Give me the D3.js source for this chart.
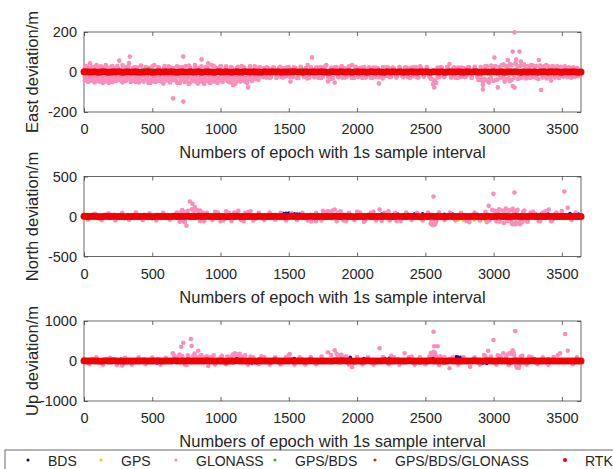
<!DOCTYPE html>
<html>
<head>
<meta charset="utf-8">
<script src="https://cdnjs.cloudflare.com/ajax/libs/d3/7.8.5/d3.min.js"></script>
<style>
body { margin: 0; background: #fff; }
svg { display: block; }
text { font-family: Arial, "Liberation Sans", sans-serif; fill: #262626; }
</style>
</head>
<body>
<svg id="drawing_region"></svg>
<script>
// series names and colours (legend order = plot order)
const seriesNames = ['BDS', 'GPS', 'GLONASS', 'GPS/BDS', 'GPS/BDS/GLONASS', 'RTK'];
const seriesColors = ['#0c0ca0', '#f2d000', '#f78fbc', '#1fd21f', '#a3421c', '#f00000'];

const panelLabels = ['East deviation/m', 'North deviation/m', 'Up deviation/m'];
const panelDomains = [[-200, 200], [-500, 500], [-1000, 1000]];
const xTicks = [0, 500, 1000, 1500, 2000, 2500, 3000, 3500];
const xLabel = 'Numbers of epoch with 1s sample interval';
const epochMax = 3640;

// RTK solution, one value every 20 epochs (0 .. 3640)
const rtkStep = 20;
const rtkEast = [
  1.5, 0.8,-0.6, 0.4, 1.1,-0.9, 0.3, 0.7,-0.4,-1.2,
  0.6, 1.3,-0.2, 0.9,-0.7, 0.2, 1.0,-0.5, 0.4, 0.8,
 -1.0, 0.5, 0.1, 1.2,-0.3,-0.8, 0.6, 0.9,-0.4, 0.3,
  0.7,-0.6, 1.1, 0.2,-0.9, 0.5, 0.8,-0.3, 0.4, 1.0,
 -0.5, 0.2, 0.9,-0.7, 0.6, 1.2,-0.2, 0.3,-1.1, 0.7,
  0.4,-0.4, 1.0, 0.5,-0.8, 0.2, 0.9,-0.3, 0.6, 1.1,
 -0.6, 0.3, 0.8,-0.2, 0.5,-0.9, 1.3, 0.4,-0.5, 0.7,
  0.2, 1.0,-0.7, 0.6, 0.3,-0.4, 0.9, 1.2,-0.2, 0.5,
 -1.0, 0.8, 0.4,-0.6, 1.1, 0.3,-0.3, 0.7, 0.2,-0.8,
  0.5, 0.9,-0.1, 0.6, 1.4,-0.5, 0.2, 0.8,-0.9, 0.3,
  1.0,-0.4, 0.6, 0.1,-0.7, 1.2, 0.5,-0.2, 0.9, 0.4,
 -0.8, 0.7, 0.3, 1.1,-0.5, 0.2, 0.8,-1.0, 0.6, 0.1,
  0.9,-0.3, 0.4, 1.3,-0.6, 0.7, 0.2,-0.9, 1.0, 0.5,
 -0.2, 0.8,-0.7, 0.3, 1.2, 0.6,-0.4, 0.9, 0.1,-1.1,
  0.7, 0.4,-0.5, 1.0, 0.2,-0.8, 0.6, 1.1,-0.3, 0.5,
  0.9,-0.6, 0.3, 0.8,-1.2, 0.4, 1.0,-0.1, 0.7, 0.2,
 -0.9, 1.3, 0.5,-0.4, 0.6, 0.9,-0.7, 0.3, 1.1,-0.2,
  0.4, 0.8,-0.5, 1.0, 0.1,-0.9, 0.7, 0.5,-0.3, 1.2,
  0.6,-0.8, 0.2];
const rtkNorth = [
  2.1,-1.4, 0.8, 1.9,-0.6, 1.2,-2.0, 0.5, 1.6,-0.9,
  0.3, 2.2,-1.1, 0.7, 1.4,-1.8, 0.9, 0.2,-0.7, 1.5,
 -1.3, 0.6, 2.0,-0.4, 1.1,-1.6, 0.8, 1.7,-0.2, 0.4,
  1.3,-1.0, 0.5, 2.3,-0.8, 1.0,-1.5, 0.7, 1.8,-0.3,
  0.9,-1.2, 1.6, 0.1,-0.9, 2.0, 0.6,-1.4, 1.2, 0.3,
 -0.6, 1.5,-1.7, 0.8, 1.1,-0.5, 2.1, 0.4,-1.0, 0.9,
  1.4,-0.3, 0.7,-1.9, 1.6, 0.2,-0.8, 1.3, 0.5,-1.1,
  2.2, 0.6,-0.4, 1.0,-1.5, 0.8, 1.7,-0.2, 0.3,-0.9,
  1.2, 0.4,-1.3, 1.9, 0.7,-0.6, 1.1,-1.0, 0.5, 1.4,
 -0.7, 0.9, 1.8,-1.2, 0.4, 2.0,-0.5, 1.1, 0.6,-1.6,
  0.8, 1.5,-0.9, 0.2, 1.9,-1.1, 0.7, 1.3,-0.4, 0.5,
  2.1,-1.5, 0.9, 0.3,-0.8, 1.6, 1.0,-1.3, 0.4, 1.8,
 -0.6, 1.2, 0.1,-1.9, 1.4, 0.7,-0.3, 2.2, 0.5,-1.0,
  1.1, 0.8,-1.6, 0.6, 1.7,-0.4, 0.2, 1.5,-1.2, 0.9,
  1.3,-0.7, 0.4, 2.0,-1.4, 0.6, 1.0,-0.2, 1.8, 0.3,
 -1.1, 0.9, 1.6,-0.8, 0.5, 1.2,-1.7, 0.7, 2.1,-0.5,
  0.4, 1.4,-1.0, 0.8, 1.9,-0.6, 0.3, 1.1,-1.5, 0.6,
  1.7,-0.9, 0.2, 1.3, 0.8,-1.2, 1.5, 0.4,-0.7, 1.0,
  0.5,-1.3, 0.9];
const rtkUp = [
  3.2,-2.5, 1.8, 4.1,-1.2, 2.6,-3.8, 0.9, 3.5,-2.0,
  1.4, 4.4,-2.9, 1.1, 2.8,-3.3, 2.0, 0.6,-1.7, 3.0,
 -2.6, 1.5, 3.9,-0.8, 2.3,-3.1, 1.6, 3.4,-0.5, 0.9,
  2.7,-2.2, 1.0, 4.6,-1.6, 2.1,-2.8, 1.3, 3.6,-0.7,
  1.9,-2.4, 3.1, 0.4,-1.9, 4.0, 1.2,-2.7, 2.5, 0.8,
 -1.3, 3.0,-3.4, 1.7, 2.2,-1.1, 4.3, 0.9,-2.1, 1.8,
  2.9,-0.6, 1.4,-3.7, 3.2, 0.5,-1.5, 2.6, 1.0,-2.3,
  4.4, 1.2,-0.9, 2.0,-3.0, 1.6, 3.4,-0.4, 0.7,-1.8,
  2.4, 0.8,-2.6, 3.8, 1.4,-1.2, 2.2,-2.0, 1.0, 2.8,
 -1.4, 1.8, 3.6,-2.4, 0.8, 4.0,-1.0, 2.2, 1.2,-3.2,
  1.6, 3.0,-1.8, 0.4, 3.8,-2.2, 1.4, 2.6,-0.8, 1.0,
  4.2,-3.0, 1.8, 0.6,-1.6, 3.2, 2.0,-2.6, 0.8, 3.6,
 -1.2, 2.4, 0.2,-3.8, 2.8, 1.4,-0.6, 4.4, 1.0,-2.0,
  2.2, 1.6,-3.2, 1.2, 3.4,-0.8, 0.4, 3.0,-2.4, 1.8,
  2.6,-1.4, 0.8, 4.0,-2.8, 1.2, 2.0,-0.4, 3.6, 0.6,
 -2.2, 1.8, 3.2,-1.6, 1.0, 2.4,-3.4, 1.4, 4.2,-1.0,
  0.8, 2.8,-2.0, 1.6, 3.8,-1.2, 0.6, 2.2,-3.0, 1.2,
  3.4,-1.8, 0.4, 2.6, 1.6,-2.4, 3.0, 0.8,-1.4, 2.0,
  1.0,-2.6, 1.8];

// [epoch, deviation] for the other solutions
const bdsEast = [[200,10],[600,8],[1250,12],[1700,9],[2100,10],[2500,-8],[3000,8],[3400,-5]];
const bdsNorth = [[900,25],[1250,-25],[1440,30],[1460,38],[1480,40],[1500,42],[1520,38],[1540,35],[1560,32],[1580,30],
  [2180,30],[2300,28],[2420,30],[2480,35],[2520,30],[2640,28],[2700,30],[2760,32],[2880,28],
  [3300,30],[3350,35],[3400,32],[3450,30],[3500,35],[3560,38],[3600,35],[3620,30]];
const bdsUp = [[110,-20],[270,40],[536,-50],[560,-45],[1090,-40],[1120,60],[1230,-50],[1540,60],[1600,40],[1880,80],
  [1950,90],[2000,80],[2050,60],[2200,70],[2240,80],[2545,70],[2560,100],[2726,108],[2740,100],[2760,90],
  [2921,-50],[2950,-60],[3060,40],[3280,60],[3300,50],[3450,40]];

const gpsEast = [[300,12],[2800,12],[3090,15],[3560,-15],[3600,-20],[3620,-25],[3630,-15]];
const gpsNorth = [[0,-30],[20,30],[50,-25],[80,35],[110,-30],[140,25],[1000,-25],
  [2740,-45],[2780,-50],[2820,-40],[2860,-45],[2900,-35],[2940,-50]];
const gpsUp = [[20,40],[60,-30],[2900,30]];

const glonassEast = [
  [5,-25],[12,30],[20,-35],[28,22],[35,-20],[44,43],[52,-30],[60,25],[68,-40],[75,18],[84,-28],[92,35],[100,-45],
  [108,20],[116,-22],[124,28],[132,-35],[140,22],[150,-50],[158,-30],[166,25],[175,-40],[182,-55],[190,20],[198,-45],
  [206,30],[214,-25],[222,-35],[230,22],[240,-30],[250,18],[258,57],[266,-28],[274,-45],[282,35],[290,-20],[300,-38],
  [310,25],[320,-30],[330,45],[336,77],[342,-25],[350,-40],[360,20],[370,-30],[380,-50],[390,22],[398,-35],
  [410,-28],[420,30],[430,-45],[440,-20],[452,25],[462,-38],[472,-55],[482,20],[494,-30],[505,-45],[515,35],[525,-25],
  [535,-40],[548,22],[560,-30],[572,-50],[584,18],[596,-35],[608,-25],[620,28],[632,-45],[644,-30],[653,-132],[660,20],
  [672,-40],[684,-55],[696,25],[708,-35],[718,-25],[727,77],[727,-148],[735,-45],[745,30],[755,-30],[766,-60],[778,22],
  [790,-40],[800,-25],[812,35],[822,-50],[834,-30],[845,20],[855,-45],[861,63],[870,-35],[880,-60],[890,25],[900,-40],
  [910,43],[918,-30],[926,-55],[934,35],[944,-40],[955,-25],[966,20],[978,-45],[990,-30],
  [1002,30],[1014,-40],[1026,-25],[1038,22],[1050,-35],[1062,-50],[1075,25],[1088,-40],[1092,-65],[1105,-30],[1118,20],
  [1130,-45],[1142,-25],[1155,30],[1167,-40],[1178,-48],[1190,-30],[1202,-77],[1214,22],[1226,-35],[1238,-25],[1250,28],
  [1262,-30],[1275,-20],[1288,25],[1300,-22],[1318,20],[1335,-28],[1352,18],[1370,-25],[1390,22],[1410,-30],[1428,20],
  [1445,-25],[1462,18],[1480,-22],[1500,25],[1512,-48],[1530,-25],[1550,20],[1570,-30],[1590,22],
  [1610,-25],[1625,20],[1638,35],[1650,-28],[1670,73],[1685,-20],[1700,22],[1718,-30],[1735,25],[1750,-22],[1765,28],
  [1775,35],[1787,-48],[1800,-25],[1812,22],[1824,-30],[1836,-53],[1848,25],[1862,-20],[1878,22],[1892,-28],
  [1908,20],[1925,-25],[1940,28],[1955,-20],[1963,35],[1978,-30],[1992,22],[2008,-25],[2022,20],[2038,-30],[2052,25],
  [2068,-22],[2085,20],[2100,-28],[2118,22],[2135,-25],[2150,20],[2160,-57],[2175,-22],[2190,25],
  [2210,-20],[2230,22],[2250,-25],[2270,18],[2290,-22],[2310,25],[2330,-20],[2350,22],[2370,-25],[2390,20],[2410,-22],
  [2430,25],[2450,-28],[2470,20],[2490,-22],[2510,25],[2530,-25],[2545,-35],[2556,-60],[2565,-77],[2572,-48],[2580,-55],
  [2590,22],[2605,-25],[2620,22],[2640,-20],[2660,25],[2677,40],[2690,-22],[2705,20],[2720,-28],[2740,22],[2760,-25],
  [2780,20],[2800,-22],[2820,25],[2840,-28],[2860,22],[2880,-25],[2895,-35],
  [2905,25],[2912,-40],[2921,-65],[2921,-87],[2935,-35],[2950,30],[2966,-53],[2980,-30],[2995,25],[3006,72],[3015,-40],
  [3031,-77],[3045,-30],[3060,35],[3072,-25],[3080,-48],[3092,30],
  [3104,60],[3112,-30],[3120,40],[3130,-40],[3140,102],[3140,-70],[3153,198],[3153,-78],[3160,45],[3165,63],[3175,30],
  [3189,102],[3190,-30],[3199,52],[3210,35],[3220,-25],[3235,30],[3250,-20],[3262,25],[3275,35],[3288,-25],
  [3300,28],[3315,-30],[3331,60],[3340,25],[3348,-90],[3360,-25],[3372,30],[3385,35],[3398,-25],[3410,22],[3421,-43],
  [3435,25],[3450,-22],[3465,28],[3480,-25],[3495,22],[3510,-20],[3525,25],[3540,-22],[3555,20],[3570,-25],[3585,22],
  [3600,-20],[3615,18],
  // dense part of the cloud
  [6,-42],[18,-18],[30,-50],[42,-28],[54,-45],[66,-22],[78,-52],[90,-35],[102,-25],[114,-48],[126,-20],[138,-55],
  [150,-30],[162,-42],[174,-25],[186,-38],[198,-22],[210,-50],[222,-18],[234,-45],[246,-30],[258,-40],[270,-22],
  [282,-52],[294,-30],[306,-45],[318,-20],[330,-35],[342,-50],[354,-28],[366,-45],[378,-22],[390,-40],[402,-52],
  [414,-30],[426,-20],[438,-48],[450,-35],[462,-25],[474,-42],[486,-55],[498,-22],[510,-38],[522,-50],[534,-28],
  [546,-45],[558,-20],[570,-35],[582,-58],[594,-25],[606,-42],[618,-30],[630,-52],[642,-22],[654,-40],[666,-28],
  [678,-48],[690,-20],[702,-55],[714,-38],[726,-25],[738,-50],[750,-42],[762,-28],[774,-55],[786,-20],[798,-45],
  [810,-35],[822,-25],[834,-58],[846,-40],[858,-22],[870,-50],[882,-32],[894,-45],[906,-25],[918,-52],[930,-38],
  [942,-20],[954,-48],[966,-30],[978,-55],[990,-42],[1002,-25],[1014,-50],[1026,-35],[1038,-22],[1050,-45],[1062,-30],
  [1074,-52],[1086,-28],[1098,-40],[1110,-58],[1122,-25],[1134,-35],[1146,-48],[1158,-22],[1170,-42],[1182,-30],
  [1194,-55],[1206,-38],[1218,-25],[1230,-45],[1242,-20],[1254,-35],[1266,-28],[1278,-40],[1290,-22],
  [16,28],[48,20],[88,30],[120,22],[160,35],[200,25],[244,30],[286,22],[326,28],[372,25],[416,32],[460,22],[500,28],
  [544,25],[590,30],[636,22],[680,28],[724,25],[770,32],[816,24],[860,28],[904,22],[950,30],[996,25],[1040,28],
  [1084,22],[1128,26],[1172,24],[1216,28],[1260,22],
  [1312,-25],[1338,24],[1362,-30],[1386,22],[1412,-24],[1436,26],[1460,-28],[1486,22],[1510,-26],[1536,24],[1560,-30],
  [1586,26],[1612,-22],[1636,-32],[1662,24],[1688,-26],[1712,22],[1738,-30],[1762,24],[1788,-28],[1812,-35],[1838,24],
  [1862,-26],[1888,30],[1912,-28],[1938,22],[1962,-30],[1988,26],[2012,-24],[2038,22],[2062,-28],[2088,24],[2112,-30],
  [2138,22],[2162,-26],[2188,-32],[2212,24],[2238,-26],[2262,22],[2288,-28],[2312,24],[2338,-26],[2362,22],[2388,-30],
  [2412,24],[2438,-26],[2462,28],[2488,-24],[2512,22],[2538,-32],[2562,-40],[2588,-28],[2612,24],[2638,-26],[2662,22],
  [2688,-28],[2712,24],[2738,-30],[2762,22],[2788,-26],[2812,24],[2838,-30],[2862,26],[2888,-40],
  [2908,-30],[2922,-50],[2938,28],[2952,-42],[2968,-35],[2982,32],[2998,-45],[3012,30],[3028,-38],[3042,25],[3058,-30],
  [3072,38],[3088,-35],[3102,28],[3118,-45],[3132,35],[3148,-30],[3162,40],[3178,-35],[3192,30],[3208,-28],[3222,38],
  [3238,-32],[3252,28],[3268,-30],[3282,35],[3298,-25],[3312,30],[3328,-35],[3342,32],[3358,-28],[3372,25],[3388,-32],
  [3402,28],[3418,-25],[3432,30],[3448,-28],[3462,24],[3478,-30],[3492,26],[3508,-24],[3522,28],[3538,-26],[3552,24],
  [3568,-28],[3582,22],[3598,-24],[3612,20],[3628,-18]];
const glonassNorth = [
  [30,-40],[80,35],[130,-45],[180,40],[230,-50],[280,45],[330,-40],[380,50],[430,-45],[480,40],[530,-50],[580,45],
  [630,-40],[680,50],[712,60],[730,-60],[743,56],[750,-116],[760,70],[775,188],[795,160],[812,119],[825,85],[836,69],
  [850,-55],[870,50],[900,45],[940,-45],[980,50],[1020,-50],[1060,45],[1100,50],[1117,35],[1150,-45],[1180,45],
  [1202,56],[1240,-50],[1280,45],[1320,-45],[1360,50],[1400,-40],[1440,45],[1480,-50],[1520,40],[1560,-45],[1600,45],
  [1640,-50],[1665,-62],[1700,45],[1740,-50],[1770,55],[1787,69],[1810,60],[1836,86],[1860,50],
  [1900,-50],[1940,45],[1980,-45],[2020,50],[2060,-50],[2100,45],[2140,-50],[2165,86],[2200,45],[2240,-50],[2280,45],
  [2320,-55],[2360,50],[2400,-45],[2440,45],[2480,-50],[2520,50],[2545,-60],[2552,-75],[2560,250],[2560,-85],
  [2565,-70],[2572,-95],[2580,-60],[2600,50],[2640,-45],[2680,50],[2720,-50],[2760,45],[2800,-55],[2823,-70],
  [2860,50],[2900,-50],[2940,55],[2964,133],[2970,-50],[2999,283],[3010,70],[3031,69],[3045,-65],[3063,75],[3080,60],
  [3100,-55],[3120,80],[3130,-70],[3140,96],[3150,60],[3153,300],[3160,-75],[3170,70],[3180,-80],[3189,-83],
  [3200,-60],[3215,55],[3240,-55],[3270,50],[3306,34],[3330,-55],[3360,50],[3404,88],[3430,-50],[3460,50],
  [3499,69],[3518,313],[3543,110],[3570,-45],[3600,50],
  [700,-65],[720,80],[740,-70],[790,90],[805,70],[850,75],[880,-60],[960,60],[1000,-60],[1040,65],[1080,-55],
  [1130,70],[1170,-60],[1220,65],[1700,-60],[1750,70],[1820,75],[1850,-60],[1880,65],[1920,-55],[2000,60],[2050,-65],
  [2120,60],[2180,-55],[2230,65],[2290,-60],[2540,-90],[2555,-110],[2568,-100],[2575,-80],[2950,-70],[2990,80],
  [3020,-60],[3040,90],[3075,-80],[3090,100],[3110,70],[3135,-90],[3145,-100],[3165,-95],[3175,85],[3195,-95],
  [3210,-70],[3225,75],[3250,-65],[3290,60],[3340,-60],[3380,65],[3420,-60]];
const glonassUp = [
  [40,-80],[90,90],[140,-90],[190,80],[240,-100],[280,-110],[300,80],[350,-90],[400,90],[450,-80],[500,85],[560,-90],
  [600,80],[650,192],[680,100],[712,358],[720,120],[727,458],[740,-90],[751,-100],[765,110],[783,550],[788,375],
  [800,130],[820,100],[837,258],[850,110],[880,90],[910,-125],[930,100],[960,-90],
  [1000,90],[1040,-80],[1080,120],[1100,150],[1104,192],[1117,167],[1130,140],[1160,100],[1200,-90],[1240,90],
  [1280,-80],[1320,100],[1360,-90],[1400,90],[1440,-80],[1480,100],[1507,175],[1540,-90],[1580,90],[1620,-85],
  [1660,100],[1700,-80],[1740,110],[1787,217],[1810,150],[1836,267],[1860,120],[1885,158],[1900,100],
  [1940,-90],[1963,-158],[2000,100],[2040,-80],[2080,90],[2120,-90],[2165,317],[2190,100],[2230,-80],[2270,90],
  [2310,-90],[2348,192],[2380,100],[2420,-90],[2460,90],[2500,-80],[2530,110],[2550,150],[2560,733],[2560,233],
  [2565,367],[2572,200],[2580,120],[2590,367],[2600,-100],[2640,90],[2677,-183],[2700,90],
  [2740,-90],[2780,100],[2828,-142],[2860,90],[2900,-90],[2940,120],[2960,258],[2980,110],[2999,525],[3020,-90],
  [3050,120],[3070,192],[3090,100],[3110,-100],[3130,180],[3140,267],[3145,220],[3158,750],[3165,-110],[3175,-142],
  [3189,-100],[3200,120],[3240,-90],[3280,90],[3320,-80],[3360,90],[3400,-90],[3440,100],[3487,192],[3524,675],
  [3543,258],[3580,-80],[3610,90],
  [660,130],[700,160],[760,140],[810,180],[860,150],[900,120],[950,140],[1010,130],[1050,110],[1090,160],[1140,180],
  [1150,120],[1180,140],[1220,110],[1300,120],[1500,140],[1850,180],[1870,140],[1920,120],[2250,130],[2400,110],
  [2540,200],[2570,160],[2610,120],[2930,150],[3030,140],[3100,160],[3120,200],[3150,150],[3170,-160],[3185,-170],
  [3210,130],[3260,110],[3470,150]];

const gpsBdsEast = [[440,12],[470,15],[500,10],[1600,12],[2880,10]];
const gpsBdsNorth = [[1900,20],[2500,15]];
const gpsBdsUp = [[1550,30]];

const gpsBdsGlonassEast = [[1000,8],[2000,-8],[3200,-10]];
const gpsBdsGlonassNorth = [[2700,15]];
const gpsBdsGlonassUp = [[3000,30]];

// ------------------------------------------------------------------
const toPairs = arr => arr.map((v, i) => [i * rtkStep, v]);

const panels = [
  { label: panelLabels[0], domain: panelDomains[0], top: 32,
    series: [bdsEast, gpsEast, glonassEast, gpsBdsEast, gpsBdsGlonassEast, toPairs(rtkEast)] },
  { label: panelLabels[1], domain: panelDomains[1], top: 176.5,
    series: [bdsNorth, gpsNorth, glonassNorth, gpsBdsNorth, gpsBdsGlonassNorth, toPairs(rtkNorth)] },
  { label: panelLabels[2], domain: panelDomains[2], top: 321,
    series: [bdsUp, gpsUp, glonassUp, gpsBdsUp, gpsBdsGlonassUp, toPairs(rtkUp)] }
];

const W = 613, H = 469;
const left = 84, right = 581, plotH = 80;
const radii = [1.8, 1.8, 2.3, 1.8, 1.8, 3.5];
const axisColor = '#444';

const svg = d3.select('#drawing_region')
  .attr('width', W)
  .attr('height', H);

const xscale = d3.scaleLinear().domain([0, epochMax]).range([left, right]);

panels.forEach(p => {
  const bottom = p.top + plotH;
  const yscale = d3.scaleLinear().domain(p.domain).range([bottom, p.top]);
  const g = svg.append('g');

  // tick marks on all four sides, labels on bottom and left
  const xaxis = d3.axisBottom(xscale).tickValues(xTicks).tickSize(-4).tickPadding(12)
    .tickFormat(d => String(d));
  const xaxisTop = d3.axisTop(xscale).tickValues(xTicks).tickSize(-4).tickFormat('');
  const yaxis = d3.axisLeft(yscale).tickValues([p.domain[0], 0, p.domain[1]]).tickSize(-4).tickPadding(7)
    .tickFormat(d => String(d));
  const yaxisRight = d3.axisRight(yscale).tickValues([p.domain[0], 0, p.domain[1]]).tickSize(-4).tickFormat('');

  [[xaxis, `translate(0,${bottom})`], [xaxisTop, `translate(0,${p.top})`],
   [yaxis, `translate(${left},0)`], [yaxisRight, `translate(${right},0)`]].forEach(([ax, tr]) => {
    const a = g.append('g').attr('transform', tr).call(ax);
    a.select('.domain').remove();
    a.selectAll('line').attr('stroke', axisColor).attr('stroke-width', 0.8);
    a.selectAll('text').attr('font-size', '14.5px').attr('fill', '#262626')
      .attr('font-family', 'Arial, "Liberation Sans", sans-serif');
  });

  g.append('rect')
    .attr('x', left).attr('y', p.top)
    .attr('width', right - left).attr('height', plotH)
    .attr('fill', 'none').attr('stroke', axisColor).attr('stroke-width', 0.8);

  // points, in legend order so RTK ends up on top
  p.series.forEach((data, k) => {
    g.append('g').selectAll('circle')
      .data(data)
      .enter()
      .append('circle')
      .attr('cx', d => xscale(d[0]))
      .attr('cy', d => yscale(d[1]))
      .attr('r', radii[k])
      .attr('fill', seriesColors[k]);
  });

  g.append('text')
    .attr('x', (left + right) / 2)
    .attr('y', bottom + 46)
    .attr('text-anchor', 'middle')
    .attr('font-size', '16.5px')
    .text(xLabel);

  g.append('text')
    .attr('transform', `translate(38, ${p.top + plotH / 2}) rotate(-90)`)
    .attr('text-anchor', 'middle')
    .attr('font-size', '16.5px')
    .text(p.label);
});

// legend along the bottom
const legendX = [28, 101, 176, 275, 375, 565];
const legend = svg.append('g');
legend.append('rect')
  .attr('x', 5).attr('y', 450)
  .attr('width', 650).attr('height', 40)
  .attr('fill', '#fff').attr('stroke', axisColor).attr('stroke-width', 0.8);

seriesNames.forEach((name, k) => {
  legend.append('circle')
    .attr('cx', legendX[k]).attr('cy', 460)
    .attr('r', k === 5 ? 2 : 1.6)
    .attr('fill', seriesColors[k]);
  legend.append('text')
    .attr('x', legendX[k] + 20).attr('y', 465.5)
    .attr('font-size', '14px')
    .text(name);
});
</script>
</body>
</html>
